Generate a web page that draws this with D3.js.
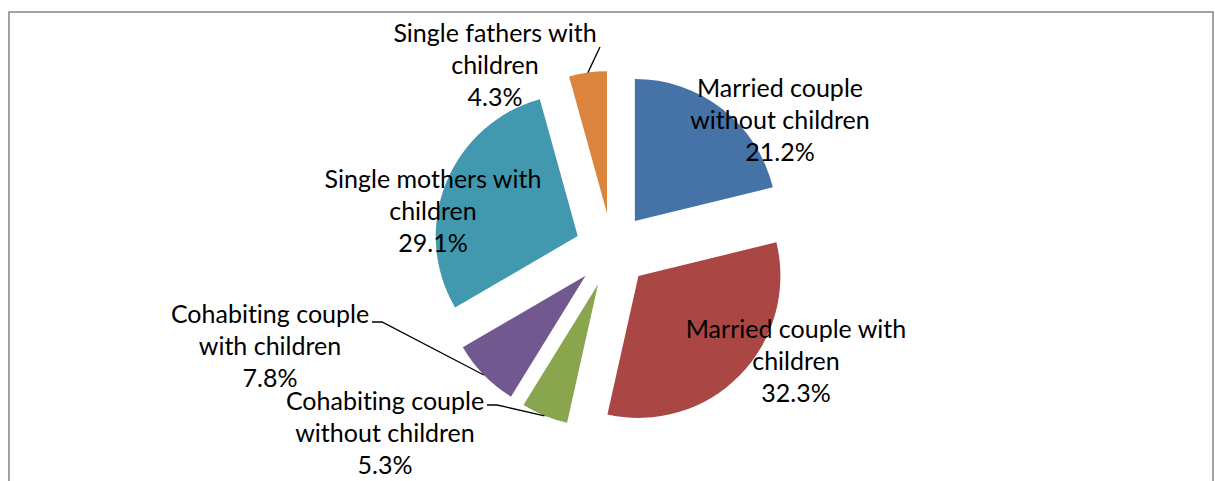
<!DOCTYPE html>
<html>
<head>
<meta charset="utf-8">
<script src="https://cdn.jsdelivr.net/npm/d3@7"></script>
<style>
  body { margin: 0; background: #fff; }
  text { font-family: Lato, "Open Sans", sans-serif; fill: #000; font-variant-ligatures: none; }
</style>
</head>
<body>
<div id="chart"></div>
<script>
  // 1. Data
  const categories = [
    "Married couple without children",
    "Married couple with children",
    "Cohabiting couple without children",
    "Cohabiting couple with children",
    "Single mothers with children",
    "Single fathers with children"
  ]
  const values = [21.2, 32.3, 5.3, 7.8, 29.1, 4.3]
  const colors = ["#4572A7", "#AA4643", "#89A54E", "#71588F", "#4198AF", "#DB843D"]

  // label lines as excel wrapped them
  const labelLines = [
    ["Married couple", "without children"],
    ["Married couple with", "children"],
    ["Cohabiting couple", "without children"],
    ["Cohabiting couple", "with children"],
    ["Single mothers with", "children"],
    ["Single fathers with", "children"]
  ]

  // label placement (offset of the label's first baseline from pie centre)
  const labelOffset = [
    [168, -153], [184, 88], [-227, 160], [-342, 73], [-179, -62], [-117, -208]
  ]
  // leader elbow, relative to pie centre (null = no leader)
  const leaderEnd = [null, null, [-115, 155], [-230, 72], null, [-12, -203]]

  // 2. Dimensions
  var width = 1215
  var height = 481
  var cx = 612, cy = 250
  var radius = 142
  var explode = 37
  var lineH = 32

  let svg = d3.select("#chart")
    .append("svg")
    .attr("width", width)
    .attr("height", height)

  // chart area border
  svg.append("rect")
    .attr("x", 9)
    .attr("y", 12)
    .attr("width", 1204)
    .attr("height", 520)
    .attr("fill", "none")
    .attr("stroke", "#858585")
    .attr("stroke-width", 1.5)

  const data = categories.map((c, i) => ({ name: c, value: values[i], i: i }))

  const pie = d3.pie()
    .sort(null)
    .value(d => d.value)

  const arc = d3.arc()
    .innerRadius(0)
    .outerRadius(radius)

  const arcs = pie(data)
  const mid = d => (d.startAngle + d.endAngle) / 2

  let g = svg.append("g")
    .attr("transform", `translate(${cx},${cy})`)

  // 3. Slices, each pushed out along its middle angle
  g.selectAll("path")
    .data(arcs)
    .join("path")
    .attr("d", arc)
    .attr("fill", d => colors[d.data.i])
    .attr("transform", d => {
      let a = mid(d)
      return `translate(${explode * Math.sin(a)},${-explode * Math.cos(a)})`
    })

  // 4. Leader lines
  g.selectAll("polyline")
    .data(arcs.filter(d => leaderEnd[d.data.i]))
    .join("polyline")
    .attr("fill", "none")
    .attr("stroke", "#000")
    .attr("stroke-width", 1.3)
    .attr("points", d => {
      let a = mid(d)
      let r = radius + explode
      let p = [r * Math.sin(a), -r * Math.cos(a)]
      let e = leaderEnd[d.data.i]
      let pts = [p, e]
      if (d.data.i != 5) pts.push([e[0] - 10, e[1]])
      return pts.map(q => q.join(",")).join(" ")
    })

  // 5. Labels
  let labels = g.selectAll("text")
    .data(arcs)
    .join("text")
    .attr("text-anchor", "middle")
    .attr("font-size", 25)
    .attr("x", d => labelOffset[d.data.i][0])
    .attr("y", d => labelOffset[d.data.i][1])

  labels.each(function (d) {
    let lines = labelLines[d.data.i].concat([d3.format(".1f")(d.data.value) + "%"])
    let t = d3.select(this)
    lines.forEach((l, k) => {
      t.append("tspan")
        .attr("x", labelOffset[d.data.i][0])
        .attr("dy", k == 0 ? 0 : lineH)
        .text(l)
    })
  })
</script>
</body>
</html>
